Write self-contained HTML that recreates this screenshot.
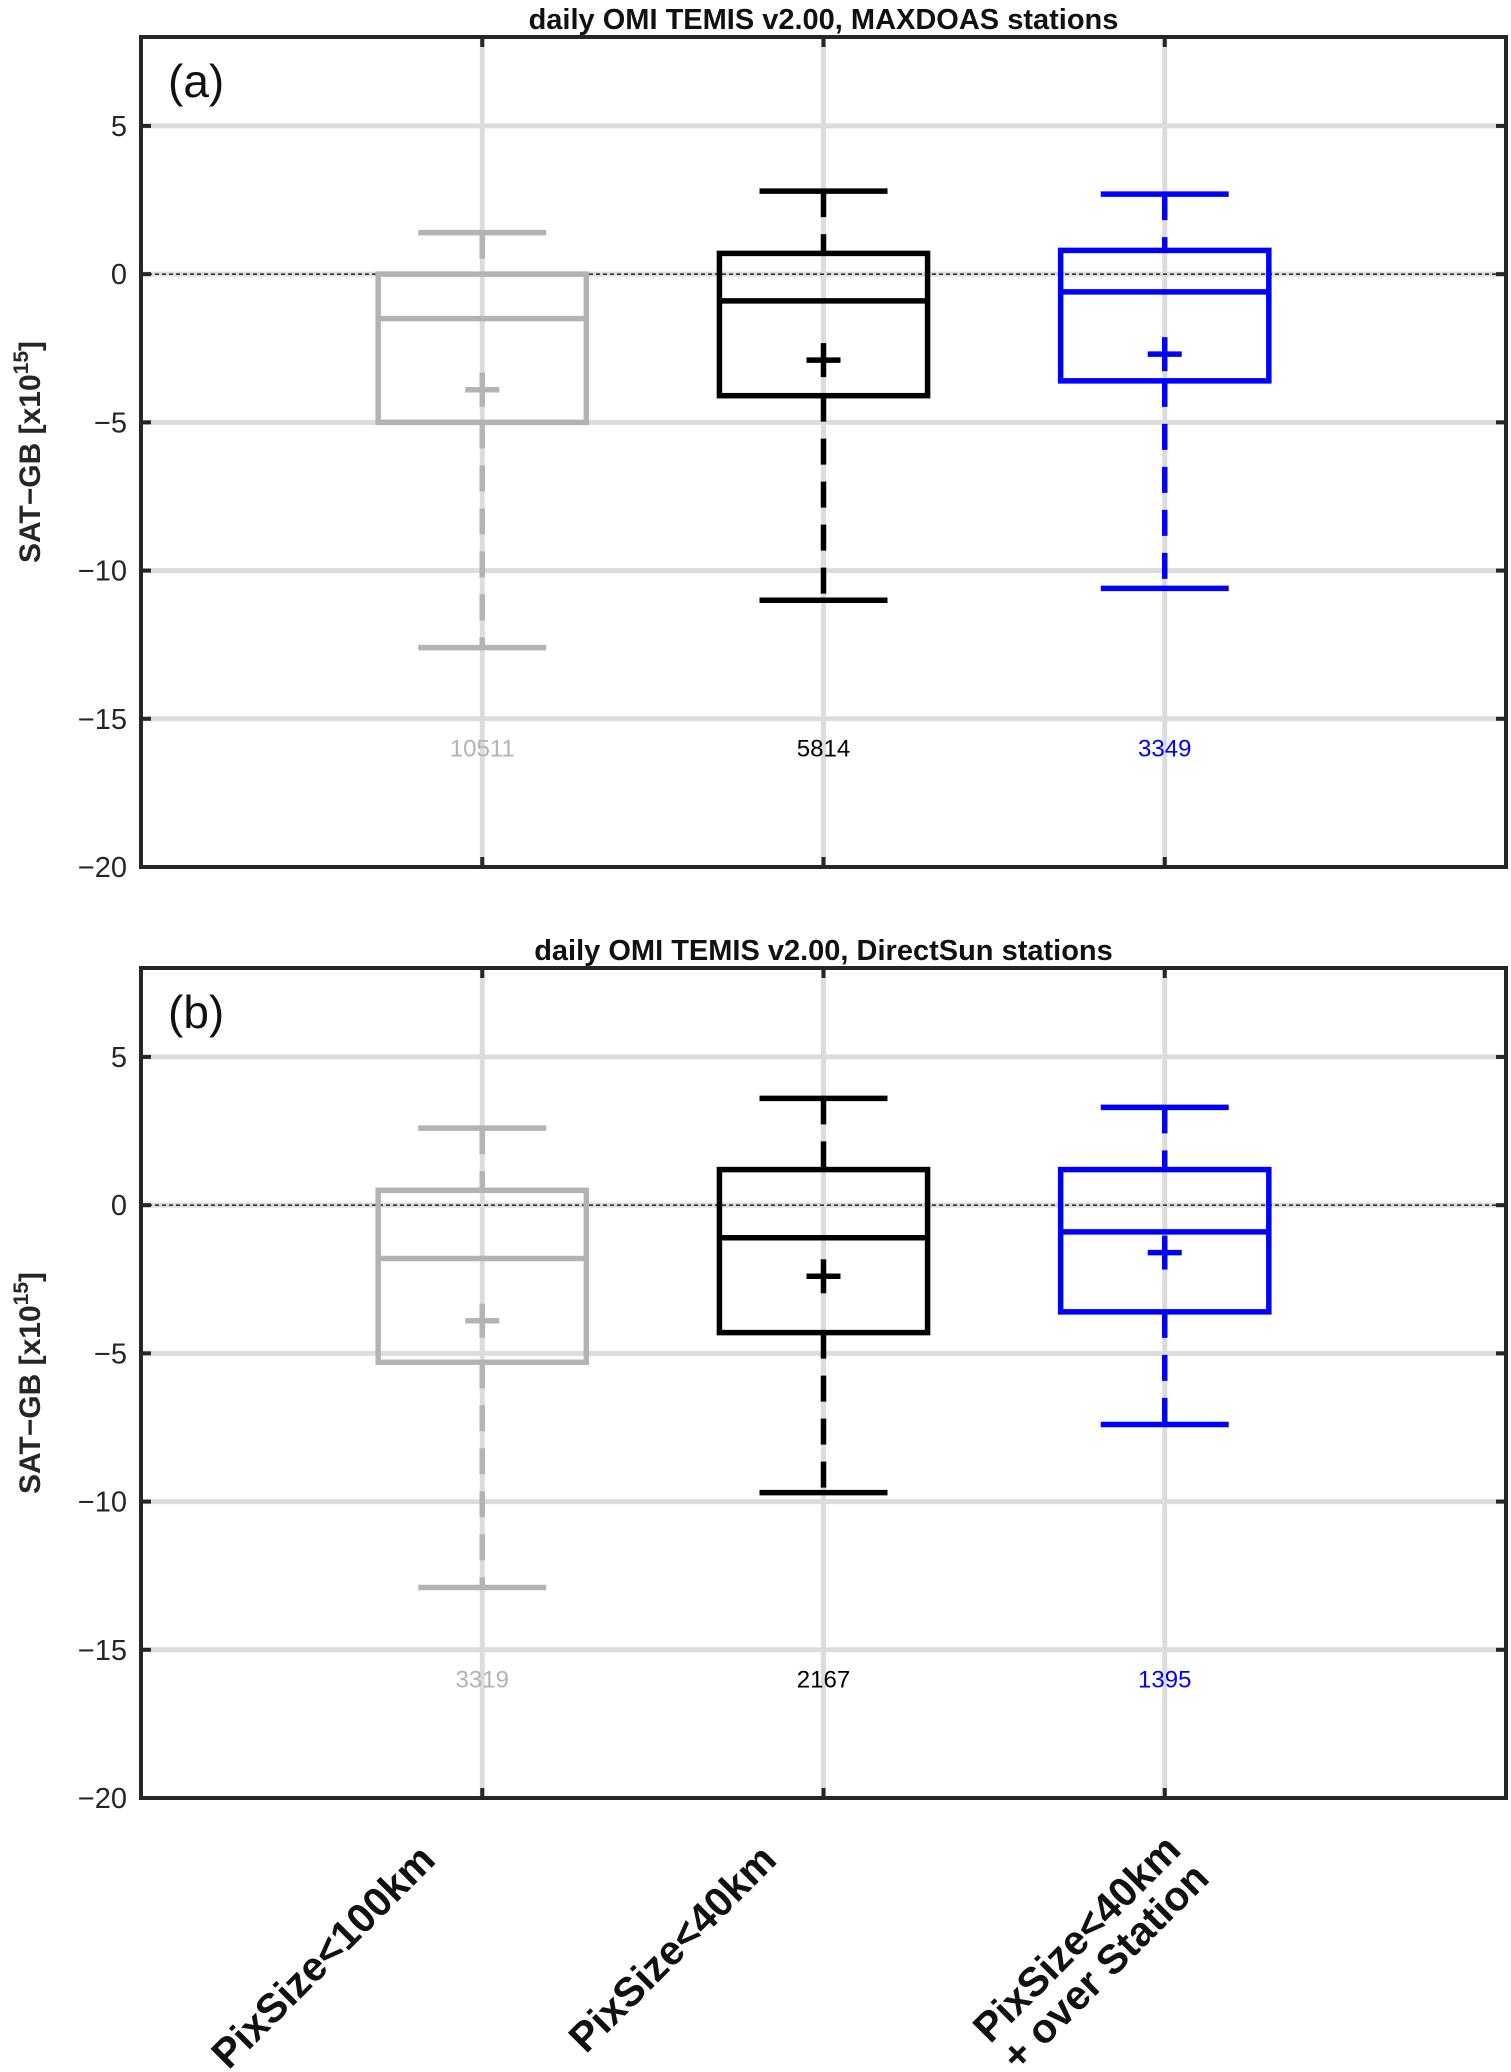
<!DOCTYPE html>
<html><head><meta charset="utf-8"><style>
html,body{margin:0;padding:0;background:#fff;}
svg{display:block;font-family:"Liberation Sans",sans-serif;}
</style></head><body>
<svg id="chart" width="1511" height="2072" viewBox="0 0 1511 2072"></svg>
<script>
const categories = [1, 2, 3];
const catLabels = ["PixSize<100km", "PixSize<40km", "PixSize<40km|+ over Station"];
const colors = ["#b3b3b3", "#000000", "#0000ff"];
const yTicks = [5, 0, -5, -10, -15, -20];
const titlesA = "daily OMI TEMIS v2.00, MAXDOAS stations";
const titlesB = "daily OMI TEMIS v2.00, DirectSun stations";
// panel a
const aWhiskHi = [1.4, 2.8, 2.7];
const aQ3 = [0.0, 0.7, 0.8];
const aMed = [-1.5, -0.9, -0.6];
const aQ1 = [-5.0, -4.1, -3.6];
const aWhiskLo = [-12.6, -11.0, -10.6];
const aMean = [-3.9, -2.9, -2.7];
const aCounts = ["10511", "5814", "3349"];
// panel b
const bWhiskHi = [2.6, 3.6, 3.3];
const bQ3 = [0.5, 1.2, 1.2];
const bMed = [-1.8, -1.1, -0.9];
const bQ1 = [-5.3, -4.3, -3.6];
const bWhiskLo = [-12.9, -9.7, -7.4];
const bMean = [-3.9, -2.4, -1.6];
const bCounts = ["3319", "2167", "1395"];

const svg = document.getElementById('chart');
const NS = "http://www.w3.org/2000/svg";
function mk(tag, attrs, parent){
  const e = document.createElementNS(NS, tag);
  for (const k in attrs) e.setAttribute(k, attrs[k]);
  (parent||svg).appendChild(e);
  return e;
}
const L = 141, R = 1506;
const xs = v => L + (v/4)*(R-L);

function panel(top, bottom, name, title, letter, hi, q3, med, q1, lo, mean, counts){
  const g = mk('g', {});
  
  
  const ys = v => top + (8 - v)/28*(bottom-top);
  yTicks.forEach(t => {
    if (t===-20) return;
    const l = mk('line',{x1:L,x2:R,y1:ys(t),y2:ys(t),stroke:'#dcdcdc','stroke-width':5},g);
    
    
  });
  categories.forEach(c => {
    const l = mk('line',{x1:xs(c),x2:xs(c),y1:top,y2:bottom,stroke:'#dcdcdc','stroke-width':5},g);
    
    
  });
  const z = mk('line',{x1:L,x2:R,y1:ys(0),y2:ys(0),stroke:'#000','stroke-width':1.3,'stroke-dasharray':'4 3'},g);
  
  
  const bw = 0.61, cw = 0.375;
  categories.forEach((c,i) => {
    const col = colors[i];
    const bg = mk('g',{stroke:col,'stroke-width':5.5,fill:'none'},g);
    
    
    const cx = xs(c);
    mk('line',{x1:cx,x2:cx,y1:ys(hi[i]),y2:ys(q3[i]),'stroke-dasharray':'26 17'},bg);
    mk('line',{x1:cx,x2:cx,y1:ys(q1[i]),y2:ys(lo[i]),'stroke-dasharray':'26 17'},bg);
    mk('line',{x1:xs(c-cw/2),x2:xs(c+cw/2),y1:ys(hi[i]),y2:ys(hi[i])},bg);
    mk('line',{x1:xs(c-cw/2),x2:xs(c+cw/2),y1:ys(lo[i]),y2:ys(lo[i])},bg);
    mk('rect',{x:xs(c-bw/2),y:ys(q3[i]),width:xs(c+bw/2)-xs(c-bw/2),height:ys(q1[i])-ys(q3[i])},bg);
    mk('line',{x1:xs(c-bw/2),x2:xs(c+bw/2),y1:ys(med[i]),y2:ys(med[i])},bg);
    const m = ys(mean[i]);
    mk('line',{x1:cx-17,x2:cx+17,y1:m,y2:m},bg);
    mk('line',{x1:cx,x2:cx,y1:m-17,y2:m+17},bg);
    const t = mk('text',{x:cx,y:ys(-16)+8,'text-anchor':'middle','font-size':24,fill:col},g);
    t.textContent = counts[i];
    
    
  });
  const fr = mk('rect',{x:L,y:top,width:R-L,height:bottom-top,fill:'none',stroke:'#262626','stroke-width':4},g);
  
  
  yTicks.forEach(t => {
    mk('line',{x1:L,x2:L+10,y1:ys(t),y2:ys(t),stroke:'#262626','stroke-width':4},g);
    mk('line',{x1:R-10,x2:R,y1:ys(t),y2:ys(t),stroke:'#262626','stroke-width':4},g);
    const tl = mk('text',{x:L-14,y:ys(t)+10,'text-anchor':'end','font-size':29,fill:'#262626'},g);
    tl.textContent = t<0 ? '\u2212'+(-t) : String(t);
    
    
  });
  categories.forEach(c => {
    mk('line',{x1:xs(c),x2:xs(c),y1:top,y2:top+10,stroke:'#262626','stroke-width':4},g);
    mk('line',{x1:xs(c),x2:xs(c),y1:bottom-10,y2:bottom,stroke:'#262626','stroke-width':4},g);
  });
  const tt = mk('text',{x:(L+R)/2,y:top-8,'text-anchor':'middle','font-size':29,'font-weight':'bold',fill:'#111'},g);
  tt.textContent = title;
  
  
  const lt = mk('text',{x:168,y:top+60,'font-size':46,fill:'#111'},g);
  lt.textContent = letter;
  
  
  const yl = mk('text',{x:0,y:0,'text-anchor':'middle','font-size':30,'font-weight':'bold',fill:'#262626',transform:`translate(40,${(top+bottom)/2}) rotate(-90)`},g);
  yl.innerHTML = 'SAT\u2212GB [x10<tspan dy="-12" font-size="21">15</tspan><tspan dy="12">]</tspan>';
  
  
}
panel(37, 867, 'panel-a', titlesA, '(a)', aWhiskHi, aQ3, aMed, aQ1, aWhiskLo, aMean, aCounts);
panel(968, 1798, 'panel-b', titlesB, '(b)', bWhiskHi, bQ3, bMed, bQ1, bWhiskLo, bMean, bCounts);

categories.forEach((c,i) => {
  const lines = catLabels[i].split('|');
  const tx = lines.length>1 ? xs(c)+18 : xs(c)-45;
  const ty = lines.length>1 ? 1852 : 1862;
  const t = mk('text',{x:0,y:0,'text-anchor':'end','font-size':41,'font-weight':'bold',fill:'#111',transform:`translate(${tx},${ty}) rotate(-45)`});
  
  
  lines.forEach((s,k) => {
    const ts = mk('tspan',{x:0,dy:k===0?0:40},t);
    ts.textContent = s;
  });
});
</script>
</body></html>
